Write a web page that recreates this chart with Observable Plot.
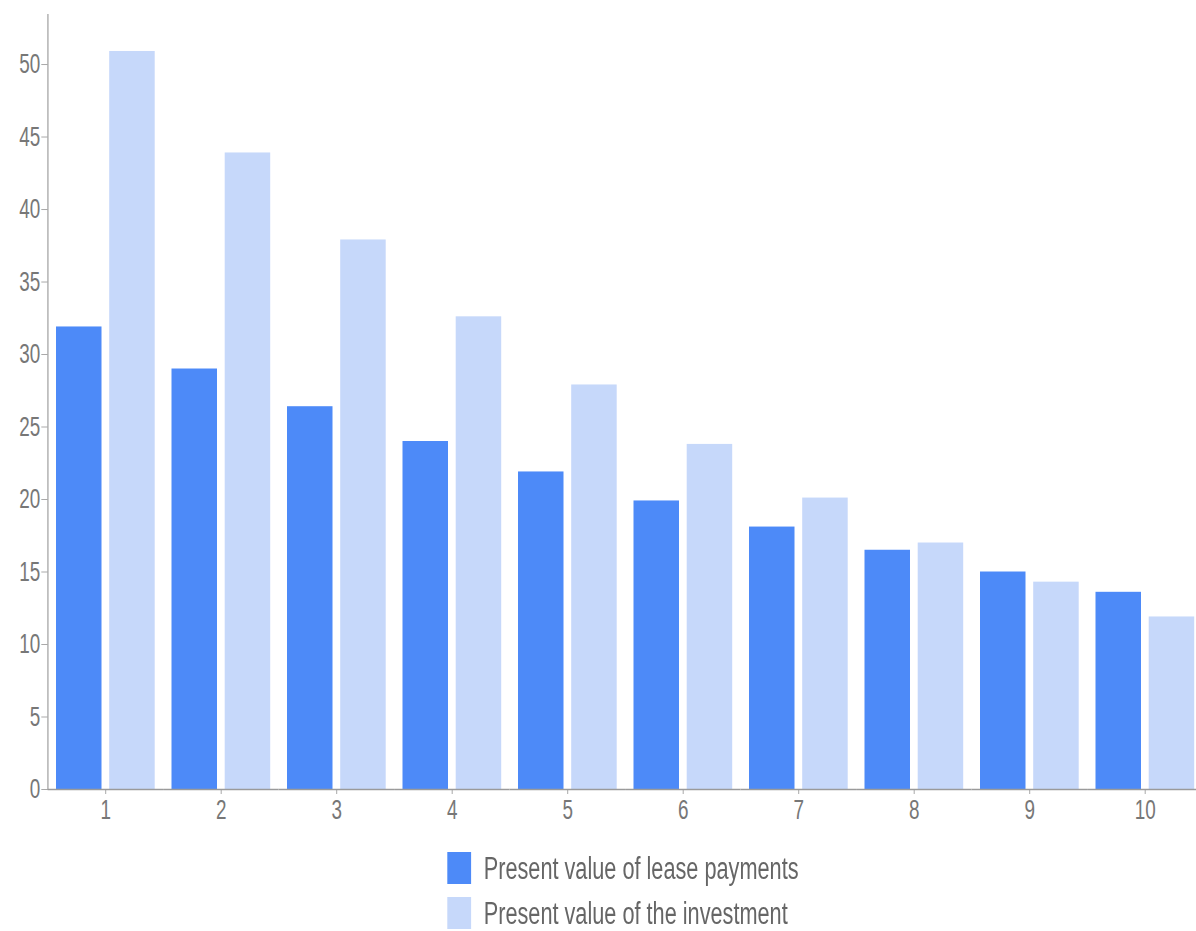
<!DOCTYPE html>
<html>
<head>
<meta charset="utf-8">
<script src="https://cdn.jsdelivr.net/npm/d3@7"></script>
<script src="https://cdn.jsdelivr.net/npm/@observablehq/plot@0.6"></script>
<style>
  html, body { margin: 0; padding: 0; background: #fff; overflow: hidden; }
  #wrap { position: relative; transform: scaleX(0.7); transform-origin: 0 0; width: 1725px; height: 931px; }
  #chart svg { max-width: none !important; }
  #legend { position: absolute; left: 639px; top: 852px; font-family: "Liberation Sans", Arial, sans-serif; font-size: 31px; color: #666; line-height: 1; }
  .item { display: flex; align-items: center; height: 32px; margin-bottom: 13px; }
  .sw { width: 34px; height: 32px; margin-right: 18px; flex: none; }
  svg g[aria-label="y-axis tick"] path, svg g[aria-label="fx-axis tick"] path { stroke: #9a9a9a; }
</style>
</head>
<body>
<div id="wrap"><div id="chart"></div><div id="legend"></div></div>
<script>
const years = [1, 2, 3, 4, 5, 6, 7, 8, 9, 10];
const series = ["Present value of lease payments", "Present value of the investment"];
const lease = [31.9, 29.0, 26.4, 24.0, 21.9, 19.9, 18.1, 16.5, 15.0, 13.6];
const investment = [50.9, 43.9, 37.9, 32.6, 27.9, 23.8, 20.1, 17.0, 14.3, 11.9];
const yTicks = [0, 5, 10, 15, 20, 25, 30, 35, 40, 45, 50];
const colors = ["#4d8af8", "#c6d8fa"];

const rows = [];
years.forEach((yr, i) => {
  rows.push({year: yr, series: series[0], value: lease[i]});
  rows.push({year: yr, series: series[1], value: investment[i]});
});

const chart = Plot.plot({
  width: 1725,
  height: 840,
  marginLeft: 63,
  marginRight: 3,
  marginTop: 14,
  marginBottom: 51,
  style: {fontSize: "27px", fontFamily: "Liberation Sans, Arial, sans-serif", color: "#777", background: "#fff"},
  fx: {domain: years, padding: 0, label: null, tickSize: 5, tickPadding: 5, axis: "bottom"},
  x: {domain: series, padding: 8 / 54, axis: null},
  y: {domain: [0, 53.45], ticks: yTicks, tickSize: 9, tickPadding: 2, label: null, line: true},
  color: {domain: series, range: colors},
  marks: [
    Plot.barY(rows, {fx: "year", x: "series", y: "value", fill: "series"}),
    Plot.ruleY([0], {stroke: "#9a9a9a", strokeWidth: 1.5})
  ]
});
document.getElementById("chart").appendChild(chart);

const legend = document.getElementById("legend");
series.forEach((s, i) => {
  const item = document.createElement("div");
  item.className = "item";
  const sw = document.createElement("div");
  sw.className = "sw";
  sw.style.background = colors[i];
  const label = document.createElement("span");
  label.textContent = s;
  item.appendChild(sw);
  item.appendChild(label);
  legend.appendChild(item);
});
</script>
</body>
</html>
